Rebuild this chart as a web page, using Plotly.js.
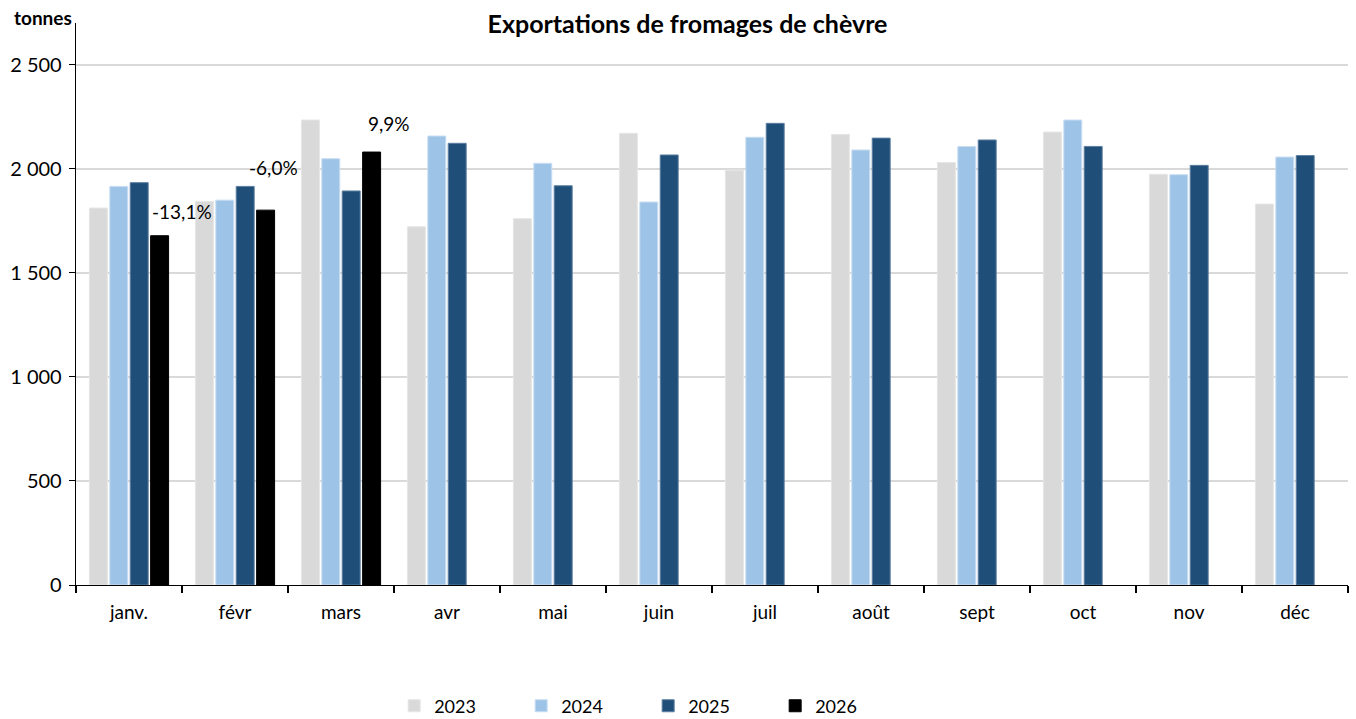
<!DOCTYPE html>
<html>
<head>
<meta charset="utf-8">
<script src="https://cdn.plot.ly/plotly-3.0.1.min.js"></script>
<style>html,body{margin:0;padding:0;background:#fff;}#chart{width:1356px;height:719px;}</style>
</head>
<body>
<div id="chart"></div>
<script>
const months = ["janv.", "févr", "mars", "avr", "mai", "juin", "juil", "août", "sept", "oct", "nov", "déc"];
const v2023 = [1811, 1843, 2234, 1721, 1760, 2170, 1993, 2165, 2030, 2176, 1973, 1830];
const v2024 = [1915, 1849, 2048, 2157, 2026, 1840, 2151, 2090, 2107, 2234, 1971, 2056];
const v2025 = [1933, 1915, 1893, 2122, 1918, 2066, 2218, 2147, 2138, 2107, 2016, 2063];
const v2026 = [1678, 1801, 2080, null, null, null, null, null, null, null, null, null];
const changeLabels = ["-13,1%", "-6,0%", "9,9%"];

const FONT = "Lato, 'Open Sans', sans-serif";
function mk(name, y, color, lineColor) {
  return {type: "bar", name: name, x: months, y: y,
    marker: {color: color, line: {color: lineColor, width: 1}}, hoverinfo: "skip"};
}
const traces = [
  mk("2023", v2023, "#D9D9D9", "#E6E6E6"),
  mk("2024", v2024, "#9DC3E6", "#C9DEF2"),
  mk("2025", v2025, "#1F4E79", "#5C7FA0"),
  mk("2026", v2026, "#000000", "#000000")
];

const shifts = [[53, 24], [38, 43], [48, 29]];
const annotations = changeLabels.map((t, i) => ({
  x: months[i], y: v2026[i], xref: "x", yref: "y", text: t, showarrow: false,
  xshift: shifts[i][0], yshift: shifts[i][1], font: {family: FONT, size: 19, color: "#000"}
}));
annotations.push({x: 0, y: 1, xref: "paper", yref: "paper", xanchor: "left", yanchor: "bottom",
  xshift: -64, yshift: -8, text: "<b>tonnes</b>", showarrow: false, font: {family: FONT, size: 19, color: "#000"}});

const layout = {
  width: 1356, height: 719,
  margin: {l: 76, r: 8, t: 23, b: 134},
  paper_bgcolor: "#fff", plot_bgcolor: "#fff",
  font: {family: FONT, size: 18, color: "#000"},
  separators: ", ",
  title: {text: "<b>Exportations de fromages de chèvre</b>", x: 0.507, xanchor: "center", y: 0.966, yanchor: "middle",
    font: {family: FONT, size: 25, color: "#000"}},
  barmode: "group", bargap: 0.23, bargroupgap: 0.12,
  xaxis: {type: "category", showline: true, linecolor: "#000", linewidth: 1.3,
    ticks: "outside", tickson: "boundaries", ticklen: 7, tickcolor: "#000", tickwidth: 1.3,
    ticklabelstandoff: 10,
    showgrid: false, tickfont: {family: FONT, size: 19}, fixedrange: true},
  yaxis: {range: [0, 2700], tickvals: [0, 500, 1000, 1500, 2000, 2500], tickformat: ",d",
    showline: true, linecolor: "#000", linewidth: 1.3, ticks: "outside", ticklen: 6, tickcolor: "#000",
    ticklabelstandoff: 3,
    gridcolor: "#D9D9D9", gridwidth: 2, zeroline: false, tickfont: {family: FONT, size: 20}, fixedrange: true},
  showlegend: true,
  legend: {orientation: "h", xref: "container", yref: "container", x: 0.478, xanchor: "center", y: 0.018, yanchor: "middle",
    font: {family: FONT, size: 18}, entrywidth: 82, traceorder: "normal"},
  annotations: annotations
};
Plotly.newPlot("chart", traces, layout, {displayModeBar: false, staticPlot: true});
</script>
</body>
</html>
